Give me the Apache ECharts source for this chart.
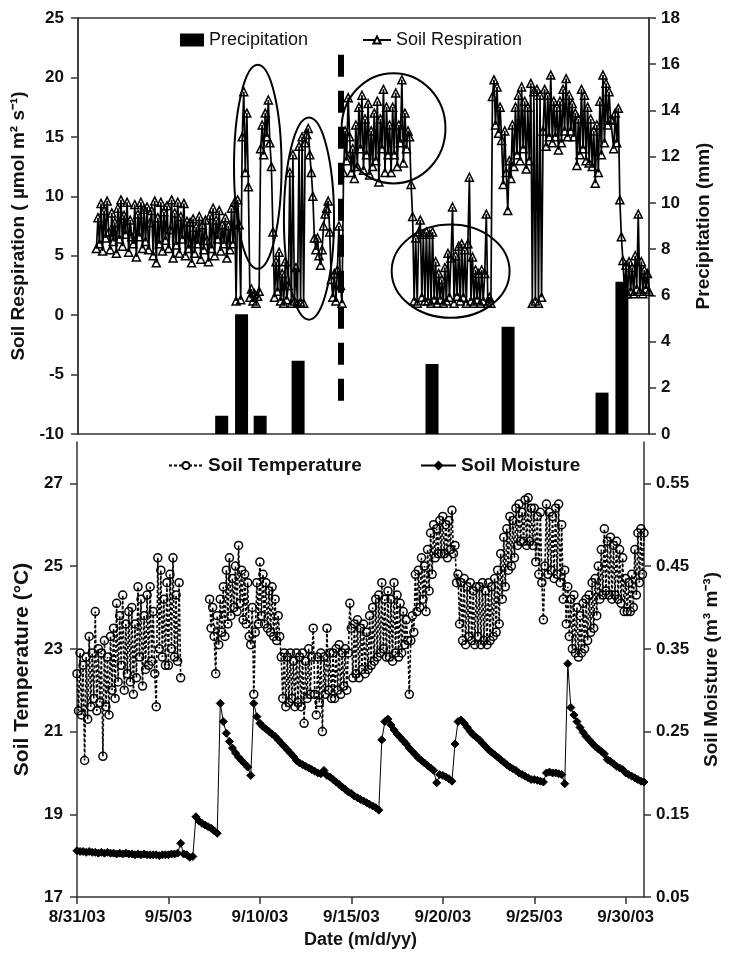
<!DOCTYPE html>
<html><head><meta charset="utf-8">
<script src="https://cdn.jsdelivr.net/npm/echarts@6/dist/echarts.min.js"></script>
<style>html,body{margin:0;padding:0;background:#fff}#c{width:729px;height:962px}</style>
</head><body><div id="c"></div>
<script>
// ---- x axis (days since 8/31/03) ----
const xTickDays = [0, 5, 10, 15, 20, 25, 30];
const xTickLabels = ['8/31/03', '9/5/03', '9/10/03', '9/15/03', '9/20/03', '9/25/03', '9/30/03'];
const fastStepDays = 2 / 24;   // respiration & temperature: every 2 h
const slowStepDays = 4 / 24;   // moisture: every 4 h

// ---- precipitation (mm) ----
const precipDays = [7.8, 8.88, 9.89, 11.95, 19.22, 23.35, 28.45, 29.53];
const precipMm = [0.79, 5.18, 0.79, 3.17, 3.03, 4.64, 1.79, 6.59];

// ---- soil respiration (umol m-2 s-1), every 2 h from day 1 ----
const respStartDay = 1;
const respiration = [
  5.6, 8.2, 6.0, 9.4, 5.4, 8.8, 6.5, 9.6, 7.0, 5.5, 8.6, 6.2,
  7.8, 5.2, 9.0, 6.4, 9.7, 5.8, 8.4, 6.8, 9.5, 5.3, 8.0, 6.6,
  6.0, 9.3, 4.9, 8.5, 6.6, 9.5, 5.6, 8.9, 6.2, 9.1, 5.5, 7.8,
  8.8, 5.0, 9.6, 4.4, 8.2, 6.0, 9.5, 5.4, 8.7, 6.3, 9.2, 5.6,
  7.2, 9.7, 4.8, 8.6, 5.9, 9.5, 5.2, 8.3, 6.4, 9.4, 5.0, 7.9,
  5.6, 7.8, 4.4, 8.1, 5.2, 7.4, 6.0, 8.3, 4.7, 7.6, 5.5, 8.0,
  6.3, 4.5, 8.4, 5.6, 9.0, 5.0, 8.0, 6.4, 8.8, 5.4, 7.6, 6.0,
  8.2, 4.8, 7.5, 5.5, 9.0, 6.0, 9.5, 1.2, 9.7, 7.6, 1.3, 15.0,
  18.8, 12.0, 17.0, 10.8, 1.5, 2.2, 1.2, 1.8, 1.0, 1.6, 2.0, 14.0,
  16.0, 13.5, 17.0, 15.0, 18.1, 14.5, 12.5, 7.0, 1.5, 4.5, 2.0, 5.3,
  1.2, 3.5, 1.0, 4.5, 1.3, 2.5, 12.0, 1.0, 13.5, 1.2, 4.0, 1.0,
  14.2, 1.1, 15.0, 1.0, 14.5, 15.2, 15.7, 13.5, 12.0, 10.0, 6.5, 5.5,
  6.5, 5.0, 4.2, 5.5, 7.5, 8.5, 9.0, 9.6, 7.0, 3.0, 1.5, 3.5,
  1.2, 3.8, 7.5, 2.5, 1.0, 12.0, 15.5, 13.0, 18.3, 15.0, 12.0, 14.0,
  11.5, 16.0, 12.5, 17.5, 14.0, 18.5, 12.2, 16.5, 13.5, 17.8, 11.8, 15.5,
  12.5, 17.0, 13.0, 18.0, 11.2, 16.5, 14.0, 19.0, 12.0, 17.5, 13.5, 16.0,
  12.0, 17.5, 13.5, 18.7, 12.5, 16.0, 14.5, 19.8, 12.8, 17.0, 14.0, 15.5,
  15.0, 11.0, 8.3, 1.2, 6.5, 1.0, 7.0, 8.0, 1.5, 6.8, 1.2, 7.0,
  1.2, 6.8, 1.0, 7.0, 1.3, 4.5, 1.0, 3.5, 1.3, 3.0, 1.0, 4.0,
  1.2, 5.2, 1.5, 4.8, 9.1, 1.0, 5.0, 1.6, 5.8, 1.2, 6.0, 1.5,
  5.5, 1.0, 6.0, 11.6, 1.2, 4.9, 1.0, 3.8, 1.3, 3.5, 1.0, 3.8,
  1.2, 3.5, 8.5, 1.0, 1.5, 1.0, 18.4, 19.8, 16.0, 19.2, 15.3, 17.5,
  14.7, 11.0, 15.5, 12.0, 8.8, 13.0, 11.5, 16.0, 12.5, 17.5, 13.5, 18.5,
  13.0, 19.2, 14.0, 18.0, 12.3, 17.5, 13.0, 19.5, 1.0, 18.8, 1.2, 19.0,
  1.0, 18.5, 1.5, 15.5, 19.0, 14.2, 18.5, 15.0, 20.2, 14.5, 18.0, 15.0,
  17.5, 13.9, 18.0, 14.5, 19.0, 15.5, 19.9, 15.0, 18.5, 15.5, 17.8, 15.0,
  17.0, 12.6, 16.5, 13.5, 19.0, 14.0, 18.5, 13.0, 17.5, 12.8, 16.5, 12.5,
  15.5, 11.1, 16.0, 12.0, 18.0, 13.5, 20.2, 14.5, 19.5, 16.0, 18.8, 16.5,
  16.4, 14.0, 17.0, 14.5, 17.4, 9.7, 6.6, 4.6, 2.0, 4.2, 1.8, 4.5,
  2.0, 4.0, 1.8, 5.0, 2.2, 8.5, 2.0, 4.5, 1.8, 3.8, 2.2, 3.5,
  2.0
];

// ---- soil temperature (C), every 2 h from day 0 ----
const tempStartDay = 0;
const soilTemperature = [
  22.4, 21.5, 22.9, 21.4, 22.6, 20.3, 22.8, 21.3, 23.3, 21.6, 22.9, 21.8,
  23.9, 21.5, 23.0, 21.7, 22.9, 20.4, 23.2, 21.6, 22.8, 21.4, 23.3, 22.0,
  23.5, 21.8, 24.1, 22.2, 23.8, 22.6, 24.3, 22.0, 23.6, 22.4, 23.9, 22.2,
  24.0, 21.9, 23.6, 22.3, 24.5, 22.8, 24.2, 22.1, 23.8, 22.5, 24.3, 22.6,
  24.5, 22.7, 23.9, 22.4, 21.6, 25.2, 23.0, 24.9, 22.8, 24.2, 22.6, 24.6,
  22.6, 24.8, 23.0, 25.2, 22.8, 24.3, 22.7, 24.6, 22.3, null, null, null,
  null, null, null, null, null, null, null, null, null, null, null, null,
  null, null, null, 24.2, 23.5, 24.0, 23.3, 22.4, 23.8, 23.1, 24.2, 23.4,
  24.5, 23.3, 24.9, 23.6, 25.2, 23.8, 24.7, 24.0, 25.0, 23.9, 25.5, 24.1,
  24.9, 23.7, 24.8, 23.6, 24.6, 23.3, 23.1, 24.0, 21.9, 23.4, 24.6, 23.6,
  25.1, 23.8, 24.8, 23.6, 24.6, 23.5, 24.4, 23.4, 24.5, 23.3, 24.2, 23.2,
  23.8, 23.3, 22.8, 21.8, 22.9, 21.6, 22.8, 21.7, 22.9, 21.8, 22.7, 21.6,
  22.9, 21.7, 22.8, 21.6, 22.9, 21.2, 22.7, 21.8, 23.0, 21.9, 22.8, 23.5,
  21.9, 21.4, 22.8, 21.7, 22.9, 21.0, 22.8, 21.9, 23.5, 22.0, 22.9, 21.8,
  22.9, 21.8, 23.0, 22.0, 23.1, 21.9, 22.9, 22.1, 23.0, 22.0, 22.9, 24.1,
  23.5, 22.3, 23.6, 22.4, 23.7, 22.3, 23.5, 22.5, 23.6, 22.4, 23.4, 22.5,
  23.8, 22.6, 24.0, 22.7, 24.2, 22.8, 24.3, 22.9, 24.6, 23.0, 24.2, 22.8,
  24.4, 22.8, 24.2, 22.7, 24.6, 22.9, 24.3, 22.8, 24.1, 22.9, 23.9, 23.1,
  23.7, 23.2, 21.9, 23.2, 23.8, 23.4, 24.8, 23.9, 24.9, 24.0, 25.2, 24.2,
  25.0, 23.9, 25.4, 24.4, 25.8, 24.8, 26.0, 25.2, 25.9, 25.3, 26.1, 25.3,
  26.2, 25.3, 26.0, 25.2, 26.1, 25.4, 26.35, 25.3, 25.5, 24.6, 24.8, 23.6,
  24.6, 23.2, 24.7, 23.1, 24.5, 23.3, 24.6, 23.2, 24.4, 23.1, 24.5, 23.3,
  24.5, 23.1, 24.6, 23.2, 24.4, 23.1, 24.6, 23.2, 24.5, 23.3, 24.7, 23.4,
  24.9, 23.6, 25.3, 24.2, 25.7, 24.5, 25.9, 24.9, 26.2, 25.0, 26.1, 25.2,
  26.4, 25.5, 26.5, 25.6, 26.3, 25.6, 26.6, 25.5, 26.65, 25.6, 26.4, 25.5,
  26.4, 25.1, 26.2, 24.8, 26.3, 24.6, 23.7, 25.0, 26.5, 24.8, 26.3, 24.9,
  26.2, 24.7, 26.4, 24.8, 26.5, 24.6, 26.0, 24.2, 24.9, 23.6, 24.5, 23.3,
  24.2, 23.0, 24.3, 22.9, 24.0, 22.8, 23.8, 22.9, 24.1, 23.0, 24.2, 23.2,
  24.3, 23.4, 24.6, 23.5, 24.7, 23.8, 25.0, 24.2, 25.4, 24.3, 25.9, 24.4,
  25.6, 24.3, 25.7, 24.2, 25.5, 24.3, 25.6, 24.2, 25.4, 24.1, 25.2, 23.9,
  24.7, 23.9, 24.6, 23.9, 24.8, 24.0, 25.4, 24.3, 25.8, 24.6, 25.9, 24.8,
  25.8
];

// ---- soil moisture (m3 m-3), every 4 h from day 0 ----
const moistStartDay = 0;
const soilMoisture = [
  0.106, 0.105, 0.105, 0.104, 0.105, 0.104,
  0.104, 0.103, 0.104, 0.103, 0.104, 0.103,
  0.103, 0.102, 0.103, 0.102, 0.103, 0.102,
  0.102, 0.101, 0.102, 0.101, 0.102, 0.101,
  0.101, 0.101, 0.101, 0.100, 0.101, 0.101,
  0.101, 0.102, 0.102, 0.103, 0.115, 0.102,
  0.101, 0.098, 0.099, 0.147, 0.142, 0.139,
  0.137, 0.135, 0.133, 0.130, 0.127, 0.284,
  0.262, 0.248, 0.238, 0.230, 0.224, 0.219,
  0.215, 0.211, 0.207, 0.197, 0.284, 0.268,
  0.260, 0.256, 0.253, 0.250, 0.247, 0.244,
  0.240, 0.236, 0.232, 0.228, 0.224, 0.220,
  0.215, 0.212, 0.210, 0.208, 0.206, 0.204,
  0.202, 0.200, 0.199, 0.203, 0.197, 0.195,
  0.192, 0.189, 0.186, 0.183, 0.180, 0.177,
  0.175, 0.172, 0.170, 0.168, 0.166, 0.164,
  0.162, 0.160, 0.158, 0.155, 0.240, 0.262,
  0.265, 0.258, 0.252, 0.247, 0.243, 0.239,
  0.235, 0.230, 0.226, 0.222, 0.218, 0.215,
  0.212, 0.209, 0.206, 0.203, 0.188, 0.198,
  0.197, 0.195, 0.193, 0.190, 0.235, 0.262,
  0.264, 0.260, 0.255, 0.250, 0.246, 0.243,
  0.240, 0.236, 0.232, 0.228, 0.225, 0.222,
  0.219, 0.216, 0.213, 0.210, 0.207, 0.205,
  0.203, 0.200, 0.198, 0.196, 0.194, 0.192,
  0.192, 0.191, 0.190, 0.189, 0.200, 0.201,
  0.200, 0.200, 0.199, 0.198, 0.187, 0.332,
  0.279, 0.270, 0.262, 0.255, 0.249, 0.244,
  0.240, 0.236, 0.232, 0.229, 0.226, 0.223,
  0.216, 0.214, 0.211, 0.208, 0.206, 0.204,
  0.200, 0.198, 0.196, 0.194, 0.192, 0.190,
  0.189
];

// ---- axis ticks ----
const tempTicks = [17, 19, 21, 23, 25, 27];
const moistTicks = [0.05, 0.15, 0.25, 0.35, 0.45, 0.55];

// ---- annotations (data units: day, respiration) ----
const dashDay = 14.26;
const dashResp = [21.9, -7.2];
const ellipseDays = [9.76, 12.54, 17.13, 20.23];
const ellipseResp = [12.48, 8.12, 15.72, 3.70];
const ellipseHalfDays = [1.29, 1.36, 2.82, 3.2];
const ellipseHalfResp = [8.58, 8.5, 4.64, 3.92];

// ---- build ----
const toXY = (arr, start, step) => arr.map((v, i) => [+(start + i * step).toFixed(4), v === null ? '-' : v]);
const FONT = 'Liberation Sans, Arial, sans-serif';
const INK = '#111';
const AX = '#333';
const HOLLOW = 'rgba(255,255,255,0)';

const chart = echarts.init(document.getElementById('c'), null, {renderer: 'canvas'});

function yAx(grid, pos, extra) {
  return Object.assign({
    type: 'value', gridIndex: grid, position: pos,
    axisLine: {show: true, onZero: false, lineStyle: {color: AX, width: 1.5}},
    axisTick: {show: true, inside: false, length: 7, lineStyle: {color: AX, width: 1.5}},
    axisLabel: {color: INK, fontFamily: FONT, fontWeight: 'bold', fontSize: 17, margin: 14},
    splitLine: {show: false},
    nameLocation: 'middle',
    nameTextStyle: {color: INK, fontFamily: FONT, fontWeight: 'bold', fontSize: 18}
  }, extra);
}

const option = {
  animation: false,
  backgroundColor: '#fff',
  grid: [
    {left: 78, right: 80, top: 18, height: 416, show: true, borderColor: AX, borderWidth: 1.5, backgroundColor: 'transparent'},
    {left: 77, right: 81, top: 442, height: 455}
  ],
  legend: [
    {data: ['Precipitation'], left: 175, top: 26, icon: 'rect', itemWidth: 24, itemHeight: 13, selectedMode: false,
      textStyle: {fontSize: 18, fontFamily: FONT, color: INK}},
    {data: [{name: 'Soil Respiration', itemStyle: {color: '#fff'}}], left: 357, top: 26, itemWidth: 28, itemHeight: 9, selectedMode: false,
      textStyle: {fontSize: 18, fontFamily: FONT, color: INK}},
    {data: [{name: 'Soil Temperature', itemStyle: {color: '#fff'}}], left: 163, top: 451, itemWidth: 34, itemHeight: 9, selectedMode: false,
      textStyle: {fontSize: 19, fontFamily: FONT, fontWeight: 'bold', color: INK}},
    {data: ['Soil Moisture'], left: 415, top: 451, itemWidth: 35, itemHeight: 9, selectedMode: false,
      textStyle: {fontSize: 19, fontFamily: FONT, fontWeight: 'bold', color: INK}}
  ],
  xAxis: [
    {type: 'value', gridIndex: 0, min: 0, max: 31, axisLine: {show: false, onZero: false}, axisTick: {show: false},
      axisLabel: {show: false}, splitLine: {show: false}},
    {type: 'value', gridIndex: 1, min: 0, max: 31,
      axisLine: {show: true, onZero: false, lineStyle: {color: AX, width: 1.5}},
      axisTick: {show: true, length: 7, customValues: xTickDays, lineStyle: {color: AX, width: 1.5}},
      axisLabel: {customValues: xTickDays, color: INK, fontFamily: FONT, fontWeight: 'bold', fontSize: 17, margin: 12,
        formatter: v => { const k = xTickDays.indexOf(Math.round(v)); return k >= 0 && Math.abs(v - xTickDays[k]) < 1e-6 ? xTickLabels[k] : ''; }},
      splitLine: {show: false},
      name: 'Date (m/d/yy)', nameLocation: 'middle', nameGap: 34,
      nameTextStyle: {color: INK, fontFamily: FONT, fontWeight: 'bold', fontSize: 18}}
  ],
  yAxis: [
    yAx(0, 'left', {min: -10, max: 25, interval: 5, name: 'Soil Respiration ( µmol m² s⁻¹)', nameGap: 45,
      nameTextStyle: {color: INK, fontFamily: FONT, fontWeight: 'bold', fontSize: 19}}),
    yAx(0, 'right', {min: 0, max: 18, interval: 2, name: 'Precipitation (mm)', nameGap: 45,
      axisLabel: {color: INK, fontFamily: FONT, fontWeight: 'bold', fontSize: 17, margin: 12},
      nameTextStyle: {color: INK, fontFamily: FONT, fontWeight: 'bold', fontSize: 19}}),
    yAx(1, 'left', {min: 17, max: 28, name: 'Soil Temperature (°C)', nameGap: 40,
      axisTick: {show: true, length: 7, customValues: tempTicks, lineStyle: {color: AX, width: 1.5}},
      axisLabel: {customValues: tempTicks, color: INK, fontFamily: FONT, fontWeight: 'bold', fontSize: 17, margin: 14},
      nameTextStyle: {color: INK, fontFamily: FONT, fontWeight: 'bold', fontSize: 21}}),
    yAx(1, 'right', {min: 0.05, max: 0.6, name: 'Soil Moisture (m³ m⁻³)', nameGap: 58,
      axisTick: {show: true, length: 7, customValues: moistTicks, lineStyle: {color: AX, width: 1.5}},
      axisLabel: {customValues: moistTicks, color: INK, fontFamily: FONT, fontWeight: 'bold', fontSize: 17, margin: 12,
        formatter: v => v.toFixed(2)},
      nameTextStyle: {color: INK, fontFamily: FONT, fontWeight: 'bold', fontSize: 19}})
  ],
  series: [
    {name: 'Precipitation', type: 'bar', xAxisIndex: 0, yAxisIndex: 1, barWidth: 13, z: 1,
      itemStyle: {color: '#000'}, data: precipDays.map((d, i) => [d, precipMm[i]])},
    {name: 'Soil Respiration', type: 'line', xAxisIndex: 0, yAxisIndex: 0, z: 3,
      symbol: 'triangle', symbolSize: 8, showSymbol: true,
      itemStyle: {color: HOLLOW, borderColor: '#000', borderWidth: 1.5},
      lineStyle: {color: '#000', width: 1.7},
      data: toXY(respiration, respStartDay, fastStepDays),
      markLine: {silent: true, symbol: ['none', 'none'], label: {show: false}, z: 5,
        lineStyle: {color: '#000', width: 6, type: [22, 14]},
        data: [[{coord: [dashDay, dashResp[0]]}, {coord: [dashDay, dashResp[1]]}]]}},
    {name: 'Soil Temperature', type: 'line', xAxisIndex: 1, yAxisIndex: 2, z: 3,
      symbol: 'circle', symbolSize: 8, showSymbol: true, connectNulls: false,
      itemStyle: {color: HOLLOW, borderColor: '#000', borderWidth: 1.5},
      lineStyle: {color: '#000', width: 1.6, type: [3, 2]},
      data: toXY(soilTemperature, tempStartDay, fastStepDays)},
    {name: 'Soil Moisture', type: 'line', xAxisIndex: 1, yAxisIndex: 3, z: 3,
      symbol: 'diamond', symbolSize: 8, showSymbol: true,
      itemStyle: {color: '#000', borderColor: '#000', borderWidth: 1},
      lineStyle: {color: '#000', width: 1},
      data: toXY(soilMoisture, moistStartDay, slowStepDays)}
  ]
};
chart.setOption(option);

const ellipses = ellipseDays.map((d, i) => {
  const c = chart.convertToPixel({xAxisIndex: 0, yAxisIndex: 0}, [d, ellipseResp[i]]);
  const e = chart.convertToPixel({xAxisIndex: 0, yAxisIndex: 0}, [d + ellipseHalfDays[i], ellipseResp[i] + ellipseHalfResp[i]]);
  return {type: 'ellipse', silent: true, z: 10,
    shape: {cx: c[0], cy: c[1], rx: Math.abs(e[0] - c[0]), ry: Math.abs(e[1] - c[1])},
    style: {fill: 'none', stroke: '#000', lineWidth: 2}};
});
chart.setOption({graphic: ellipses});
</script>
</body></html>
